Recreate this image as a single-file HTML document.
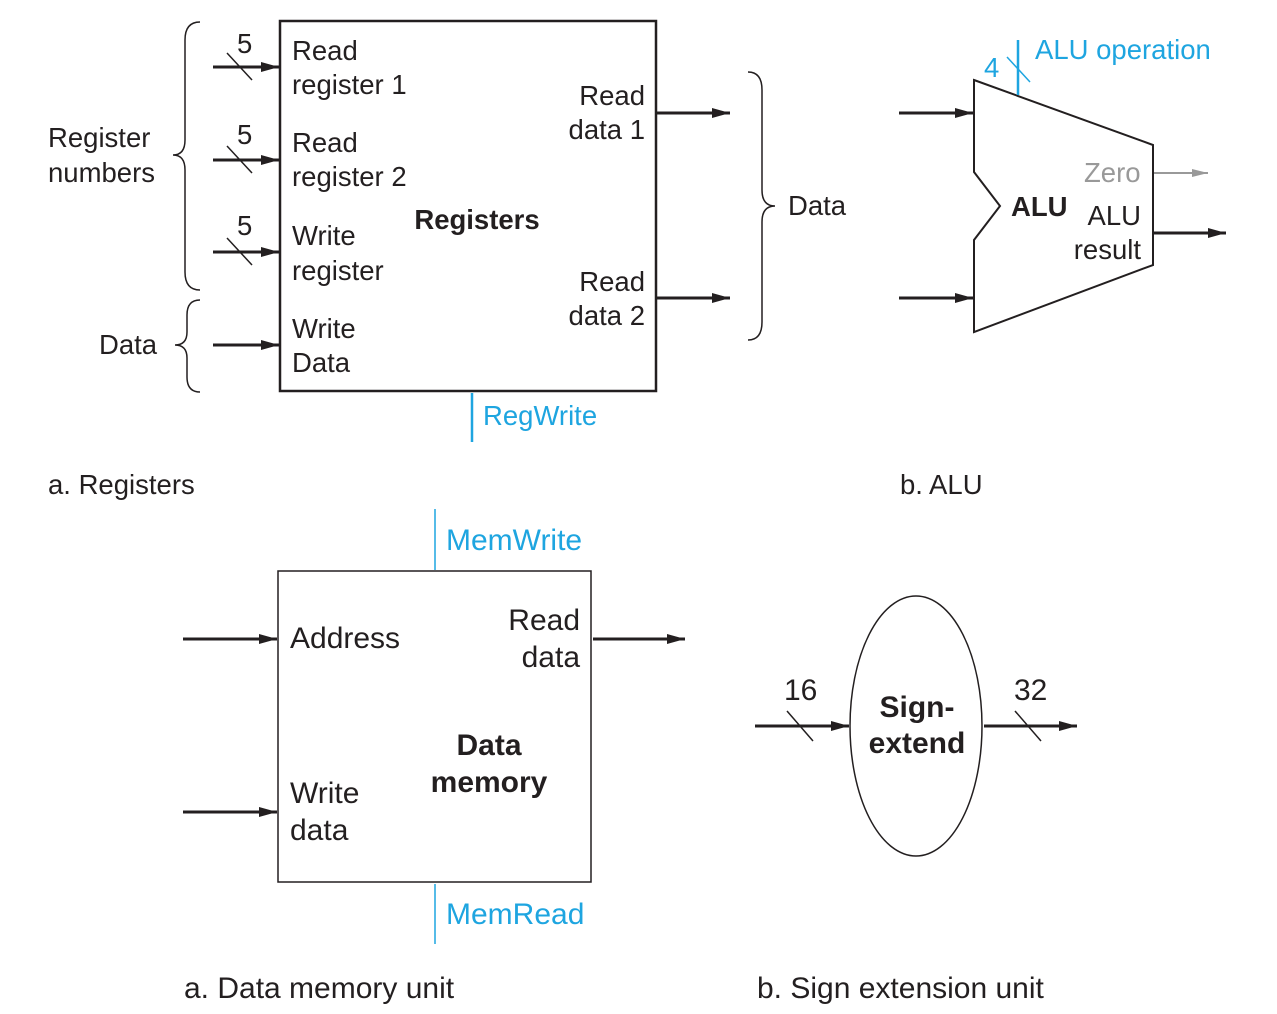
<!DOCTYPE html>
<html><head><meta charset="utf-8"><style>
html,body{margin:0;padding:0;background:#fff}
svg text{font-family:"Liberation Sans",Arial,sans-serif;fill:#231f20}
.b{font-weight:bold}
.bl{fill:#1ea5e0 !important}
</style></head><body>
<svg width="1277" height="1009" viewBox="0 0 1277 1009" xmlns="http://www.w3.org/2000/svg">
<defs>
<marker id="ar" viewBox="0 0 18 10" refX="18" refY="5" markerWidth="18" markerHeight="10" orient="auto" markerUnits="userSpaceOnUse"><path d="M0,0 L18,5 L0,10 z" fill="#231f20"/></marker>
<marker id="ag" viewBox="0 0 16 8" refX="16" refY="4" markerWidth="16" markerHeight="8" orient="auto" markerUnits="userSpaceOnUse"><path d="M0,0 L16,4 L0,8 z" fill="#999"/></marker>
</defs>
<g stroke="#231f20" fill="none">
<rect x="280" y="21" width="376" height="370" stroke-width="2.5"/>
<g stroke-width="3" marker-end="url(#ar)">
<line x1="213" y1="67" x2="279" y2="67"/>
<line x1="213" y1="160" x2="279" y2="160"/>
<line x1="213" y1="252" x2="279" y2="252"/>
<line x1="213" y1="345" x2="279" y2="345"/>
<line x1="657" y1="113" x2="730" y2="113"/>
<line x1="657" y1="298" x2="730" y2="298"/>
</g>
<g stroke-width="1.5">
<line x1="227" y1="53" x2="252" y2="80"/>
<line x1="227" y1="146" x2="252" y2="173"/>
<line x1="227" y1="238" x2="252" y2="265"/>
</g>
<g stroke-width="1.5">
<path d="M200,22 Q185,22 185,40 L185,140 Q185,155 173,155 Q185,155 185,170 L185,272 Q185,290 200,290"/>
<path d="M200,300 Q187,300 187,315 L187,332 Q187,345 175,345 Q187,345 187,358 L187,377 Q187,392 200,392"/>
<path d="M748,72 Q762,72 762,90 L762,190 Q762,206 775,206 Q762,206 762,222 L762,322 Q762,340 748,340"/>
</g>
<line x1="472" y1="393" x2="472" y2="442" stroke="#1ea5e0" stroke-width="2.5"/>
<polygon points="974,80 1153,145 1153,265 974,332 974,240 1000,206 974,172" stroke-width="2"/>
<g stroke-width="3" marker-end="url(#ar)">
<line x1="899" y1="113" x2="973" y2="113"/>
<line x1="899" y1="298" x2="973" y2="298"/>
<line x1="1154" y1="233" x2="1226" y2="233"/>
</g>
<line x1="1154" y1="173" x2="1208" y2="173" stroke="#999" stroke-width="2" marker-end="url(#ag)"/>
<line x1="1018" y1="40" x2="1018" y2="95" stroke="#1ea5e0" stroke-width="2.5"/>
<line x1="1007" y1="57" x2="1030" y2="82" stroke="#1ea5e0" stroke-width="1.5"/>
<rect x="278" y="571" width="313" height="311" stroke-width="1.5"/>
<g stroke-width="3" marker-end="url(#ar)">
<line x1="183" y1="639" x2="277" y2="639"/>
<line x1="183" y1="812" x2="277" y2="812"/>
<line x1="593" y1="639" x2="685" y2="639"/>
<line x1="755" y1="726" x2="849" y2="726"/>
<line x1="984" y1="726" x2="1077" y2="726"/>
</g>
<line x1="435" y1="509" x2="435" y2="570" stroke="#1ea5e0" stroke-width="1.5"/>
<line x1="435" y1="884" x2="435" y2="944" stroke="#1ea5e0" stroke-width="1.5"/>
<ellipse cx="916" cy="726" rx="66" ry="130" stroke-width="1.5"/>
<g stroke-width="1.5">
<line x1="787" y1="711" x2="813" y2="741"/>
<line x1="1015" y1="711" x2="1041" y2="741"/>
</g>
</g>
<g font-size="27.5">
<text x="237" y="53">5</text><text x="237" y="144">5</text><text x="237" y="235">5</text>
<text x="292" y="60">Read</text><text x="292" y="94">register 1</text>
<text x="292" y="152">Read</text><text x="292" y="186">register 2</text>
<text x="292" y="245">Write</text><text x="292" y="280">register</text>
<text x="292" y="338">Write</text><text x="292" y="372">Data</text>
<text x="645" y="105" text-anchor="end">Read</text><text x="645" y="139" text-anchor="end">data 1</text>
<text x="645" y="291" text-anchor="end">Read</text><text x="645" y="325" text-anchor="end">data 2</text>
<text x="477" y="229" text-anchor="middle" class="b">Registers</text>
<text x="48" y="147">Register</text><text x="48" y="182">numbers</text>
<text x="99" y="354">Data</text>
<text x="788" y="215">Data</text>
<text x="483" y="425" class="bl">RegWrite</text>
<text x="48" y="494">a. Registers</text>
<text x="1035" y="59" class="bl">ALU operation</text>
<text x="984" y="77" class="bl">4</text>
<text x="1084" y="182" style="fill:#999">Zero</text>
<text x="1011" y="216" class="b">ALU</text>
<text x="1141" y="225" text-anchor="end">ALU</text><text x="1141" y="259" text-anchor="end">result</text>
<text x="900" y="494">b. ALU</text>
</g>
<g font-size="30">
<text x="446" y="550" class="bl">MemWrite</text>
<text x="446" y="924" class="bl">MemRead</text>
<text x="290" y="648">Address</text>
<text x="580" y="630" text-anchor="end">Read</text><text x="580" y="667" text-anchor="end">data</text>
<text x="489" y="755" text-anchor="middle" class="b">Data</text><text x="489" y="792" text-anchor="middle" class="b">memory</text>
<text x="290" y="803">Write</text><text x="290" y="840">data</text>
<text x="184" y="998">a. Data memory unit</text>
<text x="784" y="700">16</text><text x="1014" y="700">32</text>
<text x="917" y="717" text-anchor="middle" class="b">Sign-</text><text x="917" y="753" text-anchor="middle" class="b">extend</text>
<text x="757" y="998">b. Sign extension unit</text>
</g>
</svg>
</body></html>
